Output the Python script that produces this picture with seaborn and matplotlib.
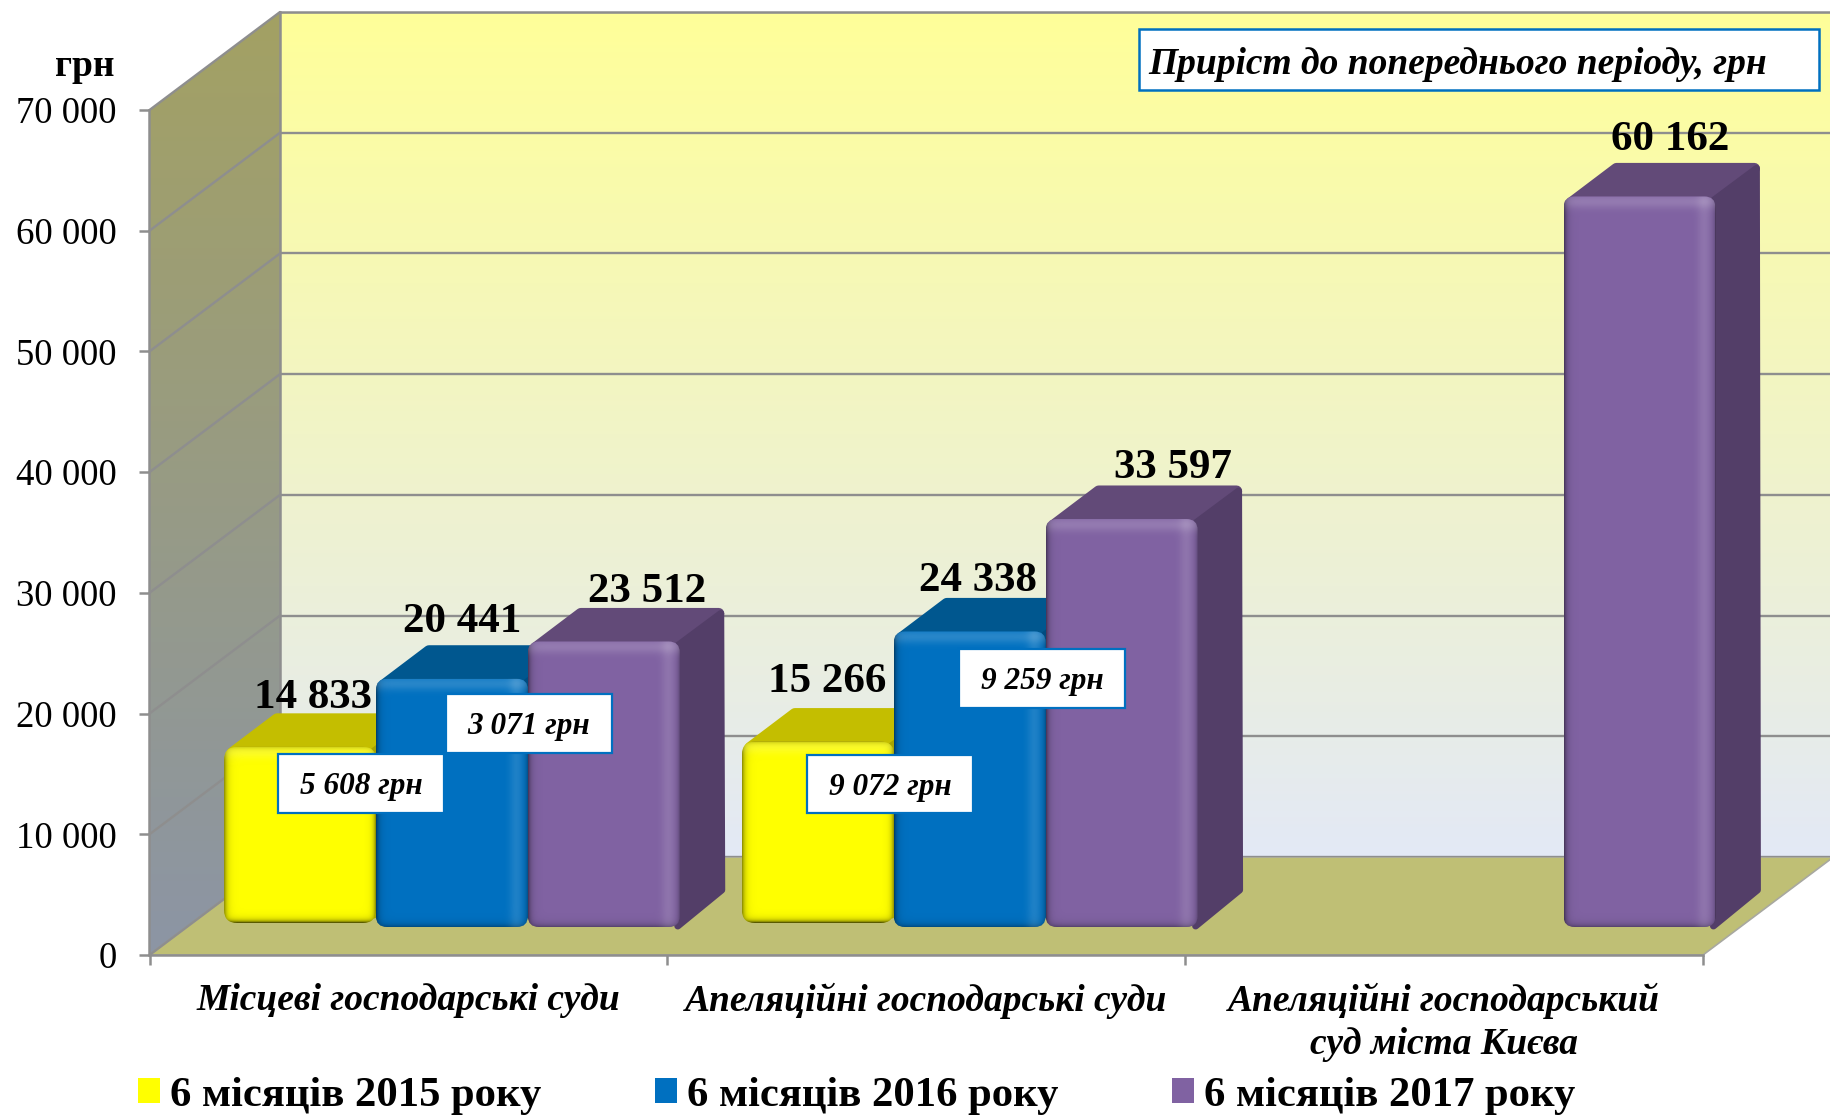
import numpy as np
import pandas as pd
import matplotlib
matplotlib.use("Agg")
import matplotlib.pyplot as plt
from matplotlib.patches import FancyBboxPatch, Polygon, Rectangle
from matplotlib.transforms import IdentityTransform
from matplotlib.colors import to_rgb
import seaborn as sns

# ---------- data ----------
categories = ["Місцеві господарські суди", "Апеляційні господарські суди",
              "Апеляційні господарський\nсуд міста Києва"]
periods = ["6 місяців 2015 року", "6 місяців 2016 року", "6 місяців 2017 року"]
values_2015 = [14833, 15266]
values_2016 = [20441, 24338]
values_2017 = [23512, 33597, 60162]
growth_labels = ["5 608 грн", "3 071 грн", "9 072 грн", "9 259 грн"]
y_ticks = [0, 10000, 20000, 30000, 40000, 50000, 60000, 70000]
y_tick_labels = ["0", "10 000", "20 000", "30 000", "40 000", "50 000", "60 000", "70 000"]
note_text = "Приріст до попереднього періоду, грн"
unit_text = "грн"

# ---------- style / geometry ----------
W, H = 1831, 1115
front_c = ["#FFFF00", "#0070C0", "#8062A2"]
top_c = ["#C4BE00", "#00578F", "#624A78"]
side_c = ["#A8A400", "#004C80", "#533E68"]
GRID = "#8E8E8E"
SERIF = ["Liberation Serif", "DejaVu Serif"]

sns.set_theme(style="white")
plt.rcParams["font.family"] = SERIF


def axpx(x0, ytop, x1, ybot):
    return [x0 / W, (H - ybot) / H, (x1 - x0) / W, (ybot - ytop) / H]


fig = plt.figure(figsize=(W / 100, H / 100), dpi=100, facecolor="white")

FX0, FX1, FY0, FY1 = 149.5, 1703, 955, 110   # front plane
BDX, BDY = 130.5, 98                          # depth of the plot box

# background axes in pixel units: left wall and floor
ax_bg = fig.add_axes([0, 0, 1, 1], zorder=0)
ax_bg.set_xlim(0, W)
ax_bg.set_ylim(H, 0)
ax_bg.axis("off")
wall_poly = Polygon([(FX0, FY1), (FX0 + BDX, FY1 - BDY), (FX0 + BDX, FY0 - BDY), (FX0, FY0)],
                    transform=ax_bg.transData, fc="none", ec="none")
ax_bg.add_patch(wall_poly)
c1, c2 = np.array(to_rgb("#A3A163")), np.array(to_rgb("#8C95A5"))
tt = np.linspace(0, 1, 256)[:, None, None]
tt = tt * np.array([1.0, 1.0, 1.0])[None, None, :]
grad = c1[None, None, :] * (1 - tt) + c2[None, None, :] * tt
im = ax_bg.imshow(grad, extent=(FX0, FX0 + BDX, FY0, FY1 - BDY), aspect="auto")
im.set_clip_path(wall_poly)
ax_bg.add_patch(Polygon([(FX0, FY0), (FX0 + BDX, FY0 - BDY), (FX1 + BDX, FY0 - BDY), (FX1, FY0)],
                        fc="#BFBF75", ec="#A8A8A0", lw=1.2, zorder=2))
ax_bg.set_xlim(0, W)
ax_bg.set_ylim(H, 0)

# back wall
ax_w = fig.add_axes(axpx(FX0 + BDX, FY1 - BDY, FX1 + BDX, FY0 - BDY), zorder=1)
ax_w.set_ylim(0, 70000)
ax_w.set_xlim(0, 1)
g1 = np.array(to_rgb("#FFFF99"))
g2 = np.array(to_rgb("#E3E9F6"))
t = np.linspace(0, 1, 256)[:, None, None]
ax_w.imshow(g1[None, None, :] * (1 - t) + g2[None, None, :] * t,
            extent=(0, 1, 0, 70000), aspect="auto", zorder=0)
ax_w.set_yticks(y_ticks)
ax_w.set_xticks([])
ax_w.tick_params(left=False, labelleft=False)
ax_w.grid(axis="y", color=GRID, lw=1.7)
ax_w.set_axisbelow(False)
for s in ax_w.spines.values():
    s.set_visible(False)
ax_w.spines["top"].set_visible(True)
ax_w.spines["top"].set_color(GRID)
ax_w.spines["top"].set_linewidth(1.8)
ax_w.spines["left"].set_visible(True)
ax_w.spines["left"].set_color(GRID)
ax_w.spines["left"].set_linewidth(1.8)

# front plane: axes, ticks, labels
ax = fig.add_axes(axpx(FX0, FY1, FX1, FY0), zorder=2)
ax.patch.set_visible(False)
ax.set_xlim(-0.5, 2.5)
ax.set_ylim(0, 70000)
ax.set_yticks(y_ticks, y_tick_labels, fontsize=26.5, color="black")
ax.set_xticks(range(3), categories, fontsize=27, fontweight="bold", fontstyle="italic",
              color="black", linespacing=1.3)
ax.set_xticks([-0.5, 0.5, 1.5, 2.5], minor=True)
ax.tick_params(axis="y", length=7.5, width=1.8, color=GRID, pad=16, left=True)
ax.tick_params(axis="x", which="major", length=0, pad=20, bottom=True)
ax.tick_params(axis="x", which="minor", length=7.5, width=1.8, color=GRID, bottom=True)
for s in ("top", "right"):
    ax.spines[s].set_visible(False)
for s in ("left", "bottom"):
    ax.spines[s].set_color(GRID)
    ax.spines[s].set_linewidth(1.8)
# gridlines running across the left wall
for v in y_ticks:
    px = ax.transData.transform((-0.5, v))
    ax_bg.plot([px[0], px[0] + BDX], [H - px[1], H - px[1] - BDY], color=GRID, lw=1.7,
               zorder=3, solid_capstyle="round")
ax_bg.set_xlim(0, W)
ax_bg.set_ylim(H, 0)

# bars
rows = []
for cat_i, cat in enumerate(categories):
    for per, vals in zip(periods, (values_2015, values_2016, values_2017)):
        if cat_i < len(vals):
            rows.append({"cat": cat, "period": per, "value": vals[cat_i]})
df = pd.DataFrame(rows)

ax_b = fig.add_axes(axpx(193, 77, 1746.5, 927), zorder=3)
ax_b.patch.set_visible(False)
sns.barplot(data=df, x="cat", y="value", hue="period", order=categories, hue_order=periods,
            palette=front_c, width=0.88, gap=0, saturation=1, linewidth=0, ax=ax_b)
ax_b.set_xlim(-0.5, 2.5)
ax_b.set_ylim(0, 70000)
ax_b.set_xlabel("")
ax_b.set_ylabel("")
ax_b.set_xticks([])
ax_b.set_yticks([])
for s in ax_b.spines.values():
    s.set_visible(False)

sns.move_legend(ax_b, loc="lower left", bbox_to_anchor=(138 / W, 0.0),
                bbox_transform=fig.transFigure, ncols=3, frameon=False, title=None,
                prop={"family": SERIF, "weight": "bold", "size": 30.7},
                labelcolor="black",
                handlelength=0.52, handleheight=0.52, handletextpad=0.22,
                columnspacing=2.68, borderpad=0, borderaxespad=0, labelspacing=0)

DX, DY = 45, 34
label_off = {14833: (13, 49), 15266: (9, 60), 20441: (10, 57), 24338: (8, 50),
             23512: (43, 49), 33597: (51, 51), 60162: (31, 56)}


def bevel(wp, hp, idx):
    yy, xx = np.mgrid[0:hp, 0:wp].astype(float)
    dark = 0.42 * np.exp(-xx / 3.0) + 0.30 * np.exp(-(hp - 1 - yy) / 3.0)
    light = 0.16 * np.exp(-((yy - 5) / 7.0) ** 2)
    if idx == 0:
        dark = dark + 0.42 * np.exp(-(wp - 1 - xx) / 2.5) + 0.25 * np.exp(-yy / 2.5)
        dark = dark + 0.35 * np.exp(-(hp - 1 - yy) / 2.0)
    else:
        light = light + 0.12 * np.exp(-((xx - (wp - 12)) / 7.0) ** 2)
        dark = dark + 0.25 * np.exp(-(wp - 1 - xx) / 2.5)
    dark = np.clip(dark, 0, 0.8)
    light = np.clip(light, 0, 0.5)
    a = 1 - (1 - dark) * (1 - light)
    c = light / np.maximum(light + dark, 1e-6)
    return np.dstack([c, c, c, a])


for i, cont in enumerate(ax_b.containers):
    for bar in cont:
        val = bar.get_height()
        if not np.isfinite(val) or val <= 0:
            continue
        bar.set_zorder(3 + 3 * i)
        (l, b), (r, t_) = ax_b.transData.transform(
            [(bar.get_x(), 0), (bar.get_x() + bar.get_width(), val)])
        b_front = b + (4 if i == 0 else 0)   # yellow bars stand a little further back
        top = Polygon([(l + 8, t_ - 6), (r, t_ - 6), (r + DX - 6, t_ + DY - 6),
                       (l + DX + 8, t_ + DY - 6)],
                      closed=True, transform=IdentityTransform(), fc=top_c[i], ec=top_c[i],
                      lw=8, joinstyle="round", zorder=1.5 + 3 * i, clip_on=False)
        side_b = b + (12 if i < 2 else 1)    # neighbours hide the foot of the first two series
        side = Polygon([(r - 2, t_ - 4), (r + DX - 4, t_ + DY - 6),
                        (r + DX - 3, side_b + DY + 2), (r - 2, side_b)],
                       closed=True, transform=IdentityTransform(), fc=side_c[i], ec=side_c[i],
                       lw=5, joinstyle="round", zorder=2 + 3 * i, clip_on=False)
        ax_b.add_patch(top)
        ax_b.add_patch(side)
        rnd = FancyBboxPatch((l, b_front), r - l, t_ - b_front,
                             boxstyle="round,pad=0,rounding_size=%g" % (13 if i == 0 else 11),
                             transform=IdentityTransform(), fc="none", ec="none")
        bar.set_clip_path(rnd)
        im = ax_b.imshow(bevel(int(r - l), int(t_ - b_front), i), aspect="auto",
                         extent=(bar.get_x(), bar.get_x() + bar.get_width(),
                                 (b_front - b) / (ax_b.transData.transform((0, 1000))[1] - b) * 1000, val),
                         zorder=3.5 + 3 * i, interpolation="bilinear")
        im.set_clip_path(rnd)
        ox, oy = label_off[int(val)]
        ax_b.annotate(f"{int(val):,}".replace(",", " "),
                      xy=(bar.get_x() + bar.get_width() / 2, val),
                      xytext=(ox * 0.72, oy * 0.72), textcoords="offset points",
                      ha="center", va="center", fontsize=31, fontweight="bold",
                      color="black", zorder=30, annotation_clip=False)
ax_b.set_xlim(-0.5, 2.5)
ax_b.set_ylim(0, 70000)

# overlay: callouts and free text
ax_o = fig.add_axes([0, 0, 1, 1], zorder=4)
ax_o.set_xlim(0, W)
ax_o.set_ylim(H, 0)
ax_o.axis("off")
boxes = [(278, 754, 444, 813), (446, 694, 612, 753), (807, 755, 973, 813), (959, 649, 1125, 708)]
for (x0, y0, x1, y1), txt in zip(boxes, growth_labels):
    ax_o.add_patch(Rectangle((x0, y0), x1 - x0, y1 - y0, fc="white", ec="#0070C0", lw=1.6))
    ax_o.text((x0 + x1) / 2, (y0 + y1) / 2 + 3, txt, ha="center", va="center", fontsize=22.5,
              fontweight="bold", fontstyle="italic", color="black")
ax_o.add_patch(Rectangle((1139, 29), 680, 61, fc="white", ec="#0070C0", lw=1.8))
ax_o.text(1148, 64, note_text, ha="left", va="center", fontsize=27, fontweight="bold",
          fontstyle="italic", color="black")
ax_o.text(85, 66, unit_text, ha="center", va="center", fontsize=27, fontweight="bold", color="black")

fig.savefig("out.png", dpi=100, facecolor="white")
